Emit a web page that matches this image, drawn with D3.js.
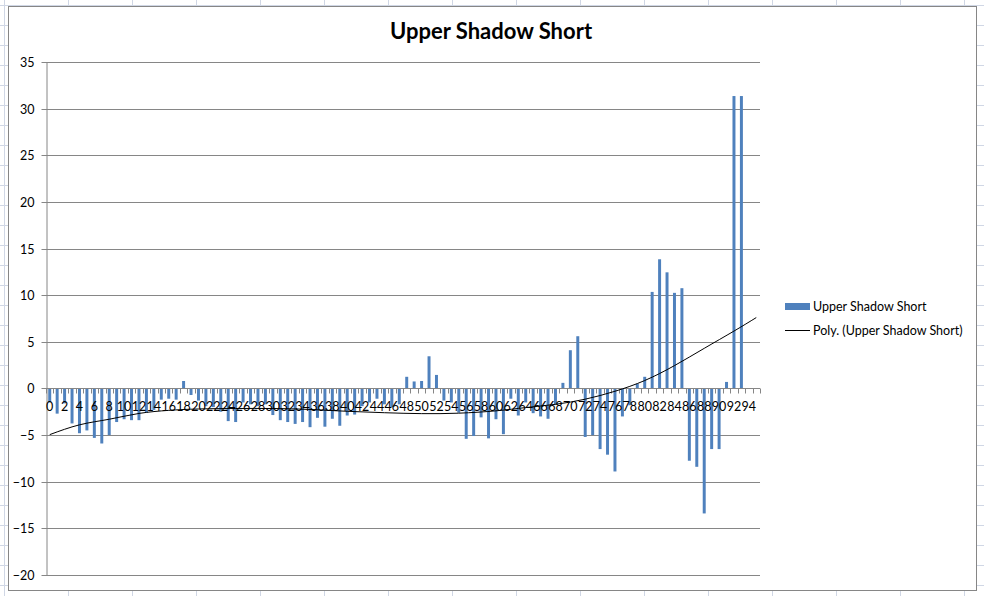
<!DOCTYPE html>
<html><head><meta charset="utf-8">
<script src="https://cdn.jsdelivr.net/npm/d3@7"></script>
<style>html,body{margin:0;padding:0;background:#fff;}svg{display:block;}</style>
</head><body>
<svg id="c" width="984" height="596"></svg>
<script>
const categories = [0,1,2,3,4,5,6,7,8,9,10,11,12,13,14,15,16,17,18,19,20,21,22,23,24,25,26,27,28,29,30,31,32,33,34,35,36,37,38,39,40,41,42,43,44,45,46,47,48,49,50,51,52,53,54,55,56,57,58,59,60,61,62,63,64,65,66,67,68,69,70,71,72,73,74,75,76,77,78,79,80,81,82,83,84,85,86,87,88,89,90,91,92,93,94,95];
const values = [-1.5,-2.7,-1.6,-3.75,-4.8,-4.5,-5.3,-5.9,-5.0,-3.6,-3.3,-3.4,-3.4,-2.6,-2.3,-1.2,-1.1,-1.2,0.8,-0.7,
  -1.3,-1.9,-2.0,-2.5,-3.5,-3.6,-1.5,-1.7,-1.9,-1.7,-2.85,-3.4,-3.6,-3.8,-3.6,-4.15,-3.15,-4.1,-3.25,-4.0,
  -2.9,-2.8,-1.9,-1.5,-1.1,-1.7,-2.0,-1.7,1.25,0.75,0.8,3.45,1.45,-1.3,-1.5,-2.6,-5.4,-5.1,-3.1,-5.35,
  -3.3,-4.9,-1.1,-2.9,-1.5,-2.65,-3.0,-3.25,-1.75,0.6,4.1,5.6,-5.2,-5.0,-6.5,-7.1,-8.9,-3.0,-1.8,0.5,
  1.25,10.35,13.85,12.45,10.25,10.75,-7.75,-8.4,-13.4,-6.5,-6.5,0.7,31.35,31.35,0,0];
const trendCats = [0,4,8,12,16,20,25,30,35,40,45,50,55,60,64,68,72,76,80,84,88,92,95];
const trendVals = [-4.95,-3.9,-3.3,-2.68,-2.35,-2.2,-2.15,-2.15,-2.25,-2.45,-2.6,-2.7,-2.65,-2.4,-2.05,-1.7,-1.15,-0.3,0.85,2.45,4.3,6.15,7.6];
const yTicks = [-20,-15,-10,-5,0,5,10,15,20,25,30,35];
const title = "Upper Shadow Short";
const seriesName = "Upper Shadow Short";
const trendName = "Poly. (Upper Shadow Short)";

const W = 984, H = 596;
const svg = d3.select("#c");
const FONT = "Lato, 'Open Sans', sans-serif";

// spreadsheet background grid
const bg = svg.append("g");
const colLines = d3.range(4, W, 64);
const rowLines = d3.range(5, H, 20);
bg.selectAll("line.col").data(colLines).join("line")
  .attr("x1", d => d + 0.5).attr("x2", d => d + 0.5).attr("y1", 0).attr("y2", H)
  .attr("stroke", "#d0d7e5");
bg.selectAll("line.row").data(rowLines).join("line")
  .attr("x1", 0).attr("x2", W).attr("y1", d => d + 0.5).attr("y2", d => d + 0.5)
  .attr("stroke", "#d0d7e5");

// chart area
svg.append("rect").attr("x", 8.5).attr("y", 6.5).attr("width", 968).attr("height", 584)
  .attr("fill", "#fff").attr("stroke", "#868686");

const plot = {left: 46, right: 760, top: 62, bottom: 575};
const x = d3.scaleBand().domain(categories).range([plot.left, plot.right]).paddingInner(0.6).paddingOuter(0.3);
const y = d3.scaleLinear().domain([-20, 35]).range([plot.bottom, plot.top]);

// gridlines
svg.append("g").selectAll("line").data(yTicks).join("line")
  .attr("x1", plot.left).attr("x2", plot.right)
  .attr("y1", d => Math.round(y(d)) + 0.5).attr("y2", d => Math.round(y(d)) + 0.5)
  .attr("stroke", "#868686");

// y axis
const yAxis = svg.append("g").attr("transform", `translate(${plot.left + 0.5},0)`)
  .call(d3.axisLeft(y).tickValues(yTicks).tickSizeInner(5).tickSizeOuter(0).tickPadding(7));
yAxis.select(".domain").attr("stroke", "#868686");
yAxis.selectAll(".tick line").attr("stroke", "#868686");
yAxis.selectAll(".tick").attr("transform", d => `translate(0,${Math.round(y(d)) + 0.5})`);
yAxis.selectAll("text").attr("font-family", FONT).attr("font-size", 12.5).attr("fill", "#000");

// bars
svg.append("g").selectAll("rect").data(categories).join("rect")
  .attr("x", (c) => x(c))
  .attr("width", x.bandwidth())
  .attr("y", (c, i) => y(Math.max(0, values[i])))
  .attr("height", (c, i) => Math.abs(y(values[i]) - y(0)))
  .attr("fill", "#4f81bd");

// x axis at zero
const step = x.step();
const zeroY = Math.round(y(0)) + 0.5;
const xAxis = svg.append("g").attr("transform", `translate(0,${zeroY})`);
xAxis.append("line").attr("x1", plot.left).attr("x2", plot.right).attr("stroke", "#868686");
xAxis.selectAll("line.tk").data(categories.concat([categories.length])).join("line")
  .attr("class", "tk")
  .attr("x1", (d, i) => Math.round(plot.left + i * step) + 0.5)
  .attr("x2", (d, i) => Math.round(plot.left + i * step) + 0.5)
  .attr("y1", 0).attr("y2", 5).attr("stroke", "#868686");
xAxis.selectAll("text").data(categories.filter(c => c % 2 === 0)).join("text")
  .attr("x", c => x(c) + x.bandwidth() / 2)
  .attr("y", 22)
  .attr("text-anchor", "middle")
  .attr("font-family", FONT).attr("font-size", 12.5).attr("fill", "#000")
  .text(c => c);

// trendline
const line = d3.line()
  .x((d, i) => x(trendCats[i]) + x.bandwidth() / 2)
  .y((d) => y(d))
  .curve(d3.curveNatural);
svg.append("path").attr("d", line(trendVals))
  .attr("fill", "none").attr("stroke", "#000").attr("stroke-width", 1);

// title
svg.append("text").attr("x", 491).attr("y", 39).attr("text-anchor", "middle")
  .attr("font-family", FONT).attr("font-weight", "bold").attr("font-size", 22)
  .attr("fill", "#000").text(title);

// legend
const lg = svg.append("g");
lg.append("rect").attr("x", 785).attr("y", 303).attr("width", 25).attr("height", 7).attr("fill", "#4f81bd");
lg.append("text").attr("x", 813).attr("y", 311).attr("font-family", FONT).attr("font-size", 12.5)
  .attr("fill", "#000").text(seriesName);
lg.append("line").attr("x1", 785).attr("x2", 810).attr("y1", 330.5).attr("y2", 330.5).attr("stroke", "#000");
lg.append("text").attr("x", 813).attr("y", 335).attr("font-family", FONT).attr("font-size", 12.5)
  .attr("fill", "#000").text(trendName);
</script>
</body></html>
